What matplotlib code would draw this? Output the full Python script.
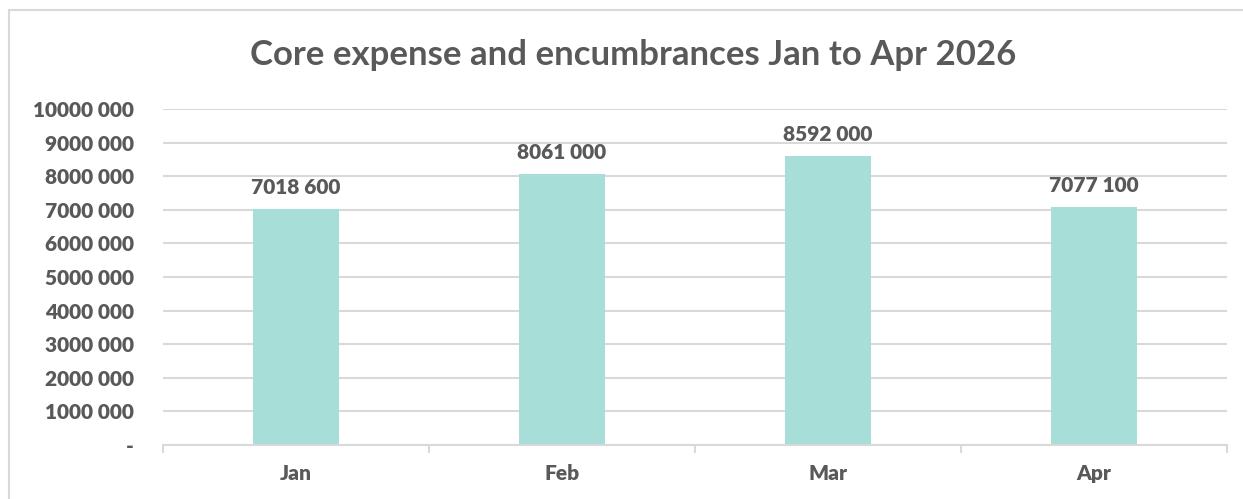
import matplotlib
matplotlib.use('Agg')
import matplotlib.pyplot as plt
from matplotlib.patches import Rectangle

# --- data
months = ['Jan', 'Feb', 'Mar', 'Apr']
values = [7018600, 8061000, 8592000, 7077100]
yticks = list(range(0, 10000001, 1000000))

BAR = '#A8DED8'
TEXT = '#595959'
GRID = '#D9D9D9'


def fmt(v):
    v = int(v)
    if v == 0:
        return '-'
    return f"{v // 1000} {v % 1000:03d}"


plt.rcParams['font.family'] = ['Lato', 'DejaVu Sans']

fig = plt.figure(figsize=(12.43, 4.99), dpi=100)
fig.patch.set_facecolor('white')

# chart frame (cut off on the right and bottom like the reference)
fig.patches.append(Rectangle((9 / 1243, -0.1), 1.2, 1 - 10 / 499 + 0.1,
                             transform=fig.transFigure, fill=False,
                             edgecolor=GRID, linewidth=1.5, zorder=0))

ax = fig.add_axes([163 / 1243, 1 - 445 / 499, 1064 / 1243, 336 / 499])
x = list(range(len(months)))
bars = ax.bar(x, values, width=0.32, color=BAR, zorder=2)

for b, v in zip(bars, values):
    ax.annotate(fmt(v), xy=(b.get_x() + b.get_width() / 2, v),
                xytext=(0, 9), textcoords='offset points',
                ha='center', va='bottom', fontsize=15, fontweight='heavy', color=TEXT)

ax.set_xlim(-0.5, len(months) - 0.5)
ax.set_ylim(0, 10000000)
ax.set_yticks(yticks)
ax.set_yticklabels([fmt(v) for v in yticks])
ax.set_xticks(x)
ax.set_xticklabels(months)
ax.set_xticks([i - 0.5 for i in range(len(months) + 1)], minor=True)

ax.grid(axis='y', color=GRID, linewidth=1.5, zorder=0)
for s in ['top', 'right', 'left']:
    ax.spines[s].set_visible(False)
ax.spines['bottom'].set_color(GRID)
ax.spines['bottom'].set_linewidth(1.5)

ax.tick_params(axis='y', length=0, pad=21, labelsize=15, labelcolor=TEXT)
ax.tick_params(axis='x', which='major', length=0, pad=14, labelsize=15, labelcolor=TEXT)
ax.tick_params(axis='x', which='minor', length=6, width=1.5, color=GRID)
for lbl in ax.get_xticklabels() + ax.get_yticklabels():
    lbl.set_fontweight('heavy')

fig.text(633 / 1243, 1 - 55 / 499, 'Core expense and encumbrances Jan to Apr 2026',
         ha='center', va='center', fontsize=25, fontweight='bold', color=TEXT)

fig.savefig('out.png', dpi=100, facecolor='white')
